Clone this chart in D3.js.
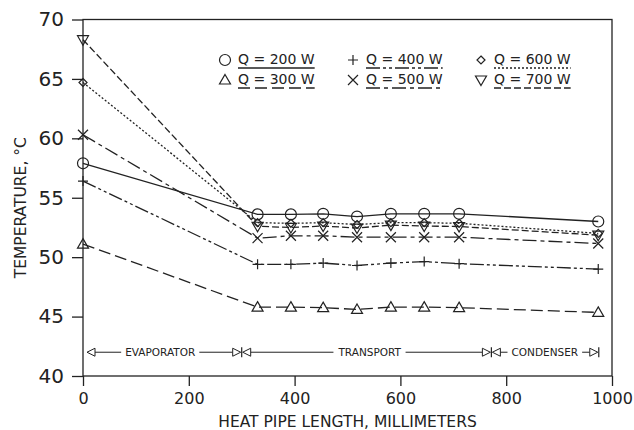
<!DOCTYPE html>
<html>
<head>
<meta charset="utf-8">
<script src="https://cdn.jsdelivr.net/npm/d3@7"></script>
<style>
  html, body { margin: 0; padding: 0; background: #fff; }
  svg { display: block; }
  text { font-family: "DejaVu Sans", sans-serif; fill: #222; }
</style>
</head>
<body>
<svg id="chart" width="634" height="430"></svg>
<script>
// ---- data ----
const positions = [0, 330, 393, 454, 518, 582, 645, 711, 974];
const q200 = [57.9, 53.6, 53.6, 53.65, 53.42, 53.65, 53.65, 53.65, 53.0];
const q300 = [51.1, 45.8, 45.8, 45.75, 45.6, 45.8, 45.8, 45.75, 45.35];
const q400 = [56.4, 49.4, 49.4, 49.5, 49.3, 49.5, 49.63, 49.45, 49.0];
const q500 = [60.3, 51.6, 51.8, 51.8, 51.68, 51.68, 51.68, 51.68, 51.15];
const q600 = [64.7, 52.9, 52.85, 52.9, 52.75, 52.9, 52.9, 52.85, 52.0];
const q700 = [68.3, 52.6, 52.5, 52.62, 52.45, 52.7, 52.62, 52.58, 51.85];
const seriesNames = ["Q = 200 W", "Q = 300 W", "Q = 400 W", "Q = 500 W", "Q = 600 W", "Q = 700 W"];
const xTicks = [0, 200, 400, 600, 800, 1000];
const yTicks = [40, 45, 50, 55, 60, 65, 70];
const regionBounds = [0, 300, 772, 975];
const regionLabels = ["EVAPORATOR", "TRANSPORT", "CONDENSER"];
const regionLabelPos = [146, 542, 873];
const regionLevel = 42.0;

// ---- layout ----
const svg = d3.select("#chart");
const L = 83, R = 612, T = 19.5, B = 376;
const x = d3.scaleLinear().domain([0, 1000]).range([L, R]);
const y = d3.scaleLinear().domain([40, 70]).range([B, T]);
const ink = "#222";

const seriesVals = [q200, q300, q400, q500, q600, q700];
const dashes = [null, "12,5", "14,3,3,3,3,3", "14,4,4,4", "2,2", "7,3"];
const markers = ["circle", "triUp", "plus", "cross", "diamond", "triDown"];

function markerPath(type) {
  switch (type) {
    case "circle": return d3.symbol(d3.symbolCircle, 95)();
    case "triUp": return "M0,-5.5L5.5,4L-5.5,4Z";
    case "triDown": return "M0,5.5L5.5,-4L-5.5,-4Z";
    case "plus": return "M-5,0H5M0,-5V5";
    case "cross": return "M-5,-5L5,5M-5,5L5,-5";
    case "diamond": return "M0,-4L4,0L0,4L-4,0Z";
  }
}

// ---- frame & axes ----
const g = svg.append("g");
g.append("rect").attr("x", L).attr("y", T).attr("width", R - L).attr("height", B - T)
  .attr("fill", "none").attr("stroke", ink).attr("stroke-width", 1.3);

const xAxis = d3.axisBottom(x).tickValues(xTicks).tickSize(10).tickSizeOuter(0).tickFormat(d3.format("d"));
const gx = g.append("g").attr("transform", `translate(0,${B})`).call(xAxis);
gx.select(".domain").remove();
gx.selectAll("line").attr("stroke", ink).attr("stroke-width", 1.3);
gx.selectAll("text").attr("font-size", 16).attr("dy", "0.95em").attr("fill", ink);

const yAxis = d3.axisLeft(y).tickValues(yTicks).tickSize(11).tickSizeOuter(0).tickPadding(8);
const gy = g.append("g").attr("transform", `translate(${L},0)`).call(yAxis);
gy.select(".domain").remove();
gy.selectAll("line").attr("stroke", ink).attr("stroke-width", 1.3);
gy.selectAll("text").attr("font-size", 20).attr("fill", ink);

// axis titles
g.append("text").attr("x", (L + R) / 2).attr("y", 427).attr("text-anchor", "middle")
  .attr("font-size", 15.5).text("HEAT PIPE LENGTH, MILLIMETERS");
g.append("text").attr("transform", `translate(26,${(T + B) / 2 + 10}) rotate(-90)`)
  .attr("text-anchor", "middle").attr("font-size", 15.5).text("TEMPERATURE, °C");

// ---- series ----
const line = d3.line().x((d, i) => x(positions[i])).y(d => y(d));
seriesVals.forEach((vals, si) => {
  g.append("path").datum(vals).attr("d", line)
    .attr("fill", "none").attr("stroke", ink).attr("stroke-width", 1.3)
    .attr("stroke-dasharray", dashes[si]);
  g.selectAll(null).data(vals).enter().append("path")
    .attr("d", markerPath(markers[si]))
    .attr("transform", (d, i) => `translate(${x(positions[i])},${y(d)})`)
    .attr("fill", "none").attr("stroke", ink).attr("stroke-width", 1.2);
});

// ---- legend ----
const legX = [225, 353, 481];
const legY = [64, 84];
seriesNames.forEach((name, si) => {
  const col = Math.floor(si / 2) === 0 ? 0 : Math.floor(si / 2);
  const c = [0, 0, 1, 1, 2, 2][si];
  const r = si % 2;
  const lx = legX[c], ly = legY[r];
  g.append("path").attr("d", markerPath(markers[si]))
    .attr("transform", `translate(${lx},${ly - 4})`)
    .attr("fill", "none").attr("stroke", ink).attr("stroke-width", 1.2);
  const t = g.append("text").attr("x", lx + 13).attr("y", ly).attr("font-size", 14).text(name);
  const w = t.node().getComputedTextLength();
  g.append("line").attr("x1", lx + 13).attr("x2", lx + 13 + w)
    .attr("y1", ly + 4).attr("y2", ly + 4)
    .attr("stroke", ink).attr("stroke-width", 1.3).attr("stroke-dasharray", dashes[si]);
});

// ---- region annotation ----
const ay = y(regionLevel);
const tri = (px, dir) => dir < 0
  ? `M${px},${ay}L${px + 8},${ay - 4}L${px + 8},${ay + 4}Z`
  : `M${px},${ay}L${px - 8},${ay - 4}L${px - 8},${ay + 4}Z`;
regionLabels.forEach((lab, i) => {
  const x0 = x(regionBounds[i]) + (i === 0 ? 4 : 1);
  const x1 = x(regionBounds[i + 1]) - 1;
  const t = g.append("text").attr("x", x(regionLabelPos[i])).attr("y", ay + 4)
    .attr("text-anchor", "middle").attr("font-size", 10.5).text(lab);
  const bb = t.node().getBBox();
  g.append("line").attr("x1", x0 + 8).attr("x2", bb.x - 4).attr("y1", ay).attr("y2", ay)
    .attr("stroke", ink).attr("stroke-width", 1);
  g.append("line").attr("x1", bb.x + bb.width + 4).attr("x2", x1 - 8).attr("y1", ay).attr("y2", ay)
    .attr("stroke", ink).attr("stroke-width", 1);
  g.append("path").attr("d", tri(x0, -1)).attr("fill", "#fff").attr("stroke", ink).attr("stroke-width", 1);
  g.append("path").attr("d", tri(x1, 1)).attr("fill", "#fff").attr("stroke", ink).attr("stroke-width", 1);
});
regionBounds.slice(1).forEach(b => {
  g.append("line").attr("x1", x(b)).attr("x2", x(b)).attr("y1", ay - 5).attr("y2", ay + 5)
    .attr("stroke", ink).attr("stroke-width", 1.2);
});
</script>
</body>
</html>
